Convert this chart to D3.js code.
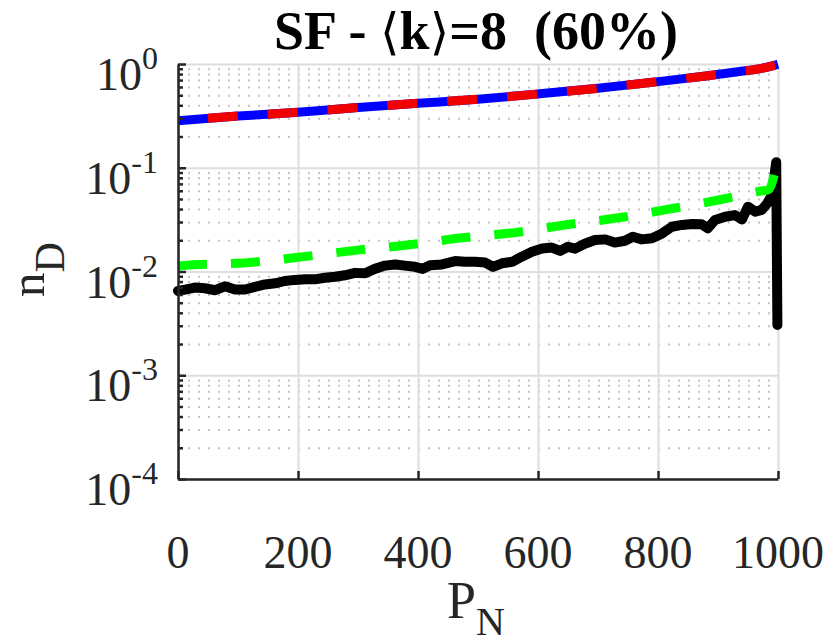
<!DOCTYPE html>
<html><head><meta charset="utf-8">
<script src="https://cdn.jsdelivr.net/npm/d3@7"></script>
<style>body{margin:0;background:#fff}svg{display:block}</style>
</head><body><svg id="c" width="830" height="644"></svg>
<script>
// ---- data ----
const xTicks = [0, 200, 400, 600, 800, 1000];
const yTickExps = [0, -1, -2, -3, -4];
const topX = [0, 100, 200, 300, 400, 500, 600, 700, 800, 883, 933, 973, 1000];
const topY = [0.284, 0.315, 0.343, 0.381, 0.418, 0.458, 0.514, 0.583, 0.676, 0.771, 0.843, 0.908, 0.99];
const greenX = [0, 25, 110, 200, 292, 382, 470, 563, 653, 743, 826, 907, 966, 985, 997];
const greenY = [0.0113, 0.0116, 0.0121, 0.0137, 0.0159, 0.018, 0.021, 0.0238, 0.0285, 0.0335, 0.0407, 0.0497, 0.0588, 0.062, 0.105];
const blackX = [0, 12, 28, 45, 62, 78, 95, 112, 128, 145, 162, 178, 195, 212, 228, 245, 262, 278, 295, 312, 328, 345, 362, 378, 395, 408, 420, 440, 462, 478, 495, 512, 525, 540, 557, 573, 590, 607, 623, 637, 650, 662, 678, 695, 712, 728, 745, 758, 773, 790, 807, 823, 840, 857, 873, 883, 895, 912, 928, 940, 950, 962, 973, 982, 990, 997, 999];
const blackY = [0.0065, 0.0067, 0.007, 0.0069, 0.0066, 0.0072, 0.0067, 0.0067, 0.0071, 0.0075, 0.0077, 0.0081, 0.0083, 0.0084, 0.0084, 0.0087, 0.0089, 0.0092, 0.0097, 0.0096, 0.0106, 0.0114, 0.0117, 0.0114, 0.0111, 0.0106, 0.0115, 0.0117, 0.0126, 0.0124, 0.0124, 0.0122, 0.0111, 0.012, 0.0124, 0.0139, 0.0155, 0.0167, 0.017, 0.0158, 0.0173, 0.0166, 0.0185, 0.0201, 0.0204, 0.019, 0.0198, 0.0216, 0.0204, 0.0209, 0.0233, 0.027, 0.0281, 0.0287, 0.0285, 0.0261, 0.0314, 0.0337, 0.035, 0.0318, 0.0421, 0.0377, 0.0392, 0.0454, 0.0546, 0.113, 0.00305];

// ---- layout ----
const svg = d3.select("#c");
const ml = 178, mt = 64, pw = 600, ph = 415;
const FONT = "'Liberation Serif','Times New Roman',serif";
const x = d3.scaleLinear().domain([0, 1000]).range([0, pw]);
const y = d3.scaleLog().domain([1e-4, 1]).range([ph, 0]);
const g = svg.append("g").attr("transform", `translate(${ml},${mt})`);

const majors = yTickExps.map(e => Math.pow(10, e));
const minors = [];
for (let e = -4; e < 0; e++) for (let m = 2; m <= 9; m++) minors.push(m * Math.pow(10, e));

// minor dotted grid
g.append("g").call(d3.axisLeft(y).tickValues(minors).tickSize(-pw).tickFormat("").tickSizeOuter(0))
  .call(s => s.select(".domain").remove())
  .selectAll("line").attr("stroke", "#c4c4c4").attr("stroke-width", 2).attr("stroke-dasharray", "2 8");
// major grids
g.append("g").call(d3.axisLeft(y).tickValues(majors).tickSize(-pw).tickFormat("").tickSizeOuter(0))
  .call(s => s.select(".domain").remove())
  .selectAll("line").attr("stroke", "#dedede").attr("stroke-width", 2);
g.append("g").attr("transform", `translate(0,${ph})`)
  .call(d3.axisBottom(x).tickValues(xTicks).tickSize(-ph).tickFormat("").tickSizeOuter(0))
  .call(s => s.select(".domain").remove())
  .selectAll("line").attr("stroke", "#dedede").attr("stroke-width", 2);

// series
const lineC = d3.line().x(d => x(d[0])).y(d => y(d[1])).curve(d3.curveMonotoneX);
const lineL = d3.line().x(d => x(d[0])).y(d => y(d[1]));
const blackD = blackX.map((v, i) => [v, blackY[i]]);
const greenD = greenX.map((v, i) => [v, greenY[i]]);
const topD = topX.map((v, i) => [v, topY[i]]);

g.append("path").attr("d", lineL(blackD)).attr("fill", "none").attr("stroke", "#000")
  .attr("stroke-width", 10).attr("stroke-linejoin", "round").attr("stroke-linecap", "round");
g.append("path").attr("d", lineC(greenD)).attr("fill", "none").attr("stroke", "#00ff00")
  .attr("stroke-width", 9).attr("stroke-dasharray", "29 24");
g.append("path").attr("d", lineC(topD)).attr("fill", "none").attr("stroke", "#0000ff")
  .attr("stroke-width", 9);
g.append("path").attr("d", lineC(topD)).attr("fill", "none").attr("stroke", "#f00000")
  .attr("stroke-width", 9).attr("stroke-dasharray", "30 30").attr("stroke-dashoffset", 30);

// axes
g.append("g").attr("class", "ax").call(d3.axisLeft(y).tickValues(majors).tickSize(-8).tickFormat("").tickSizeOuter(0));
g.append("g").attr("class", "ax").call(d3.axisLeft(y).tickValues(minors).tickSize(-5).tickFormat("").tickSizeOuter(0))
  .call(s => s.select(".domain").remove());
g.append("g").attr("class", "ax").attr("transform", `translate(0,${ph})`)
  .call(d3.axisBottom(x).tickValues(xTicks).tickSize(-8).tickFormat("").tickSizeOuter(0));
g.selectAll(".ax .domain").attr("stroke", "#262626").attr("stroke-width", 2.5);
g.selectAll(".ax .tick line").attr("stroke", "#262626").attr("stroke-width", 2.5);

// y tick labels
yTickExps.forEach(e => {
  const t = g.append("text").attr("x", -20).attr("y", y(Math.pow(10, e)) + 26)
    .attr("text-anchor", "end").attr("font-family", FONT).attr("fill", "#262626");
  t.append("tspan").attr("font-size", 46).text("10");
  t.append("tspan").attr("font-size", 32).attr("dy", -21).text(e === 0 ? "0" : "-" + (-e));
});
// x tick labels
xTicks.forEach(v => {
  g.append("text").attr("x", x(v)).attr("y", ph + 89).attr("text-anchor", "middle")
    .attr("font-family", FONT).attr("font-size", 46).attr("fill", "#262626").text(v);
});

// axis labels
const xl = svg.append("text").attr("x", 447).attr("y", 618).attr("font-family", FONT).attr("fill", "#262626");
xl.append("tspan").attr("font-size", 52).text("P");
xl.append("tspan").attr("font-size", 40).attr("dy", 17).text("N");
const yl = svg.append("text").attr("transform", "translate(44,297) rotate(-90)").attr("font-family", FONT).attr("fill", "#262626");
yl.append("tspan").attr("font-size", 49).text("n");
yl.append("tspan").attr("font-size", 42).attr("dy", 20).text("D");

// title
const tt = svg.append("text").attr("x", 476).attr("y", 49).attr("text-anchor", "middle")
  .attr("font-family", FONT).attr("font-weight", "bold").attr("font-size", 54).attr("fill", "#000")
  .style("white-space", "pre");
tt.append("tspan").text("SF - ");
tt.append("tspan").attr("font-weight", "normal").attr("font-family", "'DejaVu Serif',serif").attr("font-size", 50).text("\u27E8");
tt.append("tspan").text("k");
tt.append("tspan").attr("font-weight", "normal").attr("font-family", "'DejaVu Serif',serif").attr("font-size", 50).text("\u27E9");
tt.append("tspan").text("=8  (60%)");
</script></body></html>
